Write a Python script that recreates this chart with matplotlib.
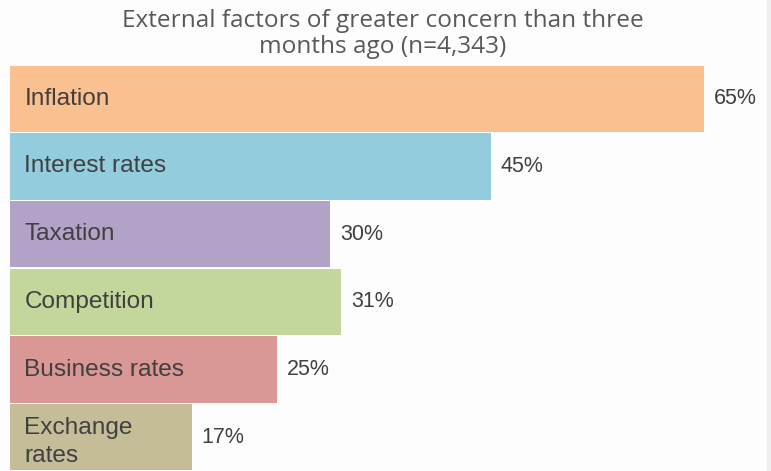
import matplotlib
matplotlib.use("Agg")
import matplotlib.pyplot as plt
from matplotlib.patches import Rectangle

categories = ["Inflation", "Interest rates", "Taxation", "Competition", "Business rates", "Exchange\nrates"]
values = [65, 45, 30, 31, 25, 17]
value_labels = ["65%", "45%", "30%", "31%", "25%", "17%"]
colors = ["#FAC090", "#93CDDD", "#B3A2C7", "#C3D69B", "#D99795", "#C4BD97"]
title = "External factors of greater concern than three\nmonths ago (n=4,343)"

W, H = 771, 471
fig = plt.figure(figsize=(W / 100, H / 100), dpi=100)
fig.patch.set_facecolor("#FDFDFD")
fig.patches.append(Rectangle((767 / W, 0), 4 / W, 1, transform=fig.transFigure,
                             facecolor="#EFEFEF", edgecolor="none", zorder=0))
left_px, top_px = 10, 65
px_per_pct = 10.68
ax = fig.add_axes([left_px / W, 0, (W - left_px) / W, (H - top_px) / H])
ax.patch.set_alpha(0)
ax.set_xlim(0, (W - left_px) / px_per_pct)
ax.set_ylim(len(categories) - 0.5, -0.5)
y = range(len(categories))
ax.barh(y, values, height=0.985, color=colors)
for i, (cat, v, lab) in enumerate(zip(categories, values, value_labels)):
    dy = 0.07 if "\n" in cat else 0.0
    ax.text(1.35, i + dy, cat, va="center", ha="left", fontsize=17.6,
            family="Liberation Sans", color="#404040", linespacing=1.4)
    ax.text(v + 0.95, i, lab, va="center", ha="left", fontsize=15.5,
            family="Liberation Sans", color="#404040")
ax.axis("off")
fig.text(0.496, 1 - 34 / H, title, ha="center", va="center", fontsize=17.6,
         family="Open Sans", color="#595959", linespacing=1.08)
fig.savefig("out.png", dpi=100, facecolor=fig.get_facecolor())
